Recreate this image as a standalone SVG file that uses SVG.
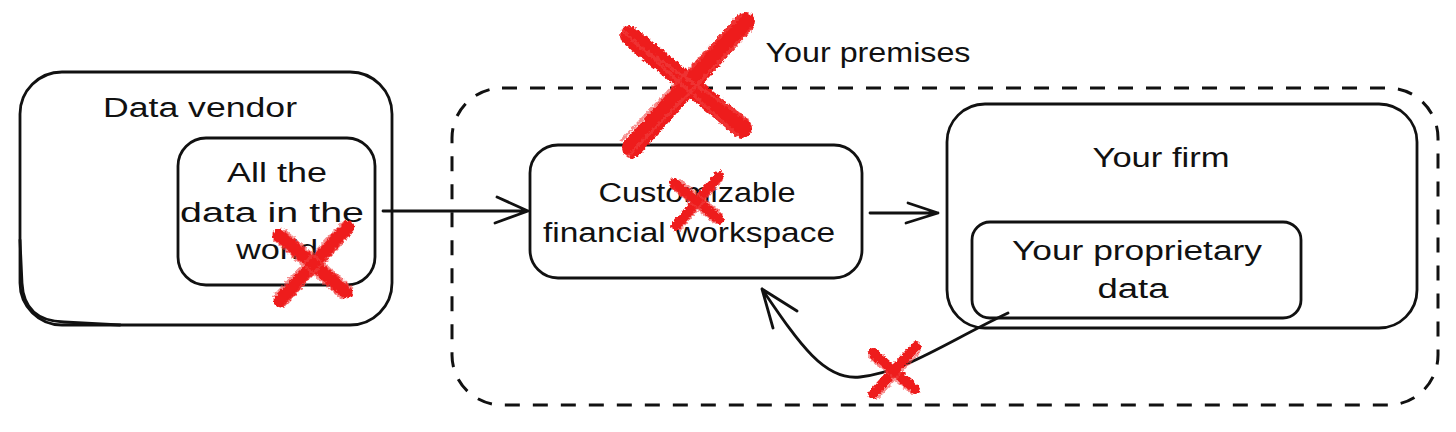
<svg xmlns="http://www.w3.org/2000/svg" width="1456" height="432" viewBox="0 0 1456 432">
<style>
.box{fill:none;stroke:#111;stroke-width:2.8}
.dash{fill:none;stroke:#111;stroke-width:3;stroke-dasharray:15 13}
.t{font-family:"Liberation Sans","DejaVu Sans",sans-serif;font-size:27px;fill:#111;text-anchor:middle}
.con{fill:none;stroke:#111;stroke-width:2.8;stroke-linecap:round;stroke-linejoin:round}
.rx{stroke:#ee1d1d;stroke-linecap:round;fill:none}
.rxl{stroke:#f04040;stroke-linecap:round;fill:none;opacity:0.6}
</style>
<defs>
<filter id="rough" x="-20%" y="-20%" width="140%" height="140%">
<feTurbulence type="fractalNoise" baseFrequency="0.35" numOctaves="2" seed="3" result="n"/>
<feDisplacementMap in="SourceGraphic" in2="n" scale="5" xChannelSelector="R" yChannelSelector="G"/>
</filter>
</defs>
<rect width="1456" height="432" fill="#fff"/>

<g id="premises">
<rect class="dash" x="452" y="88" width="986" height="317" rx="50"/>
<text class="t" x="868" y="62" textLength="205" lengthAdjust="spacingAndGlyphs">Your premises</text>
</g>

<g id="data-vendor">
<rect class="box" x="20" y="72" width="372" height="253" rx="42"/>
<path class="box" stroke-width="2" stroke-linecap="round" d="M20,240 L22,283 Q24,321 64,322 L120,325"/>
<text class="t" x="200" y="117" textLength="194" lengthAdjust="spacingAndGlyphs">Data vendor</text>
</g>

<g id="all-data">
<rect class="box" x="178" y="138" width="197" height="147" rx="28"/>
<text class="t" x="277" y="182" textLength="100" lengthAdjust="spacingAndGlyphs">All the</text>
<text class="t" x="272" y="222" textLength="184" lengthAdjust="spacingAndGlyphs">data in the</text>
<text class="t" x="277" y="259" textLength="82" lengthAdjust="spacingAndGlyphs">world</text>
</g>

<g id="workspace">
<rect class="box" x="530" y="145" width="332" height="133" rx="28"/>
<text class="t" x="697" y="202" textLength="197" lengthAdjust="spacingAndGlyphs">Customizable</text>
<text class="t" x="689" y="242" textLength="292" lengthAdjust="spacingAndGlyphs">financial workspace</text>
</g>

<g id="your-firm">
<rect class="box" x="947" y="104" width="470" height="224" rx="38"/>
<text class="t" x="1161" y="167" textLength="137" lengthAdjust="spacingAndGlyphs">Your firm</text>
</g>

<g id="proprietary">
<rect class="box" x="972" y="222" width="329" height="96" rx="18"/>
<text class="t" x="1137" y="260" textLength="250" lengthAdjust="spacingAndGlyphs">Your proprietary</text>
<text class="t" x="1133" y="298" textLength="71" lengthAdjust="spacingAndGlyphs">data</text>
</g>

<g id="connectors">
<path class="con" d="M383,211 L528,211 M497,197 L528,211 L495,223"/>
<path class="con" d="M870,213 L938,213 M908,203 L938,213 L906,223"/>
<path class="con" d="M1008,313 C945,343 905,372 860,377 C825,381 800,345 762,289 M762,289 L797,311 M762,289 L773,328"/>
</g>

<g id="red-crosses" filter="url(#rough)">
<g>
<path class="rx" stroke-width="20" d="M630,36 L742,128 M745,22 L632,148"/>
<path class="rxl" stroke-width="3" d="M622,30 L738,136 M636,44 L748,120 M752,28 L628,156 M740,16 L622,140"/>
</g>
<g>
<path class="rx" stroke-width="10" d="M674,183 L719,219 M719,176 L676,226"/>
<path class="rxl" stroke-width="2" d="M670,186 L716,224 M680,180 L722,214 M722,180 L680,230"/>
</g>
<g>
<path class="rx" stroke-width="13" d="M279,235 L346,292 M348,227 L280,301"/>
<path class="rxl" stroke-width="2.5" d="M274,240 L342,298 M284,230 L352,288 M352,232 L284,306 M343,222 L274,296"/>
</g>
<g>
<path class="rx" stroke-width="10" d="M873,353 L915,389 M916,346 L873,394"/>
<path class="rxl" stroke-width="2" d="M869,357 L911,393 M920,351 L877,399"/>
</g>
</g>
</svg>
